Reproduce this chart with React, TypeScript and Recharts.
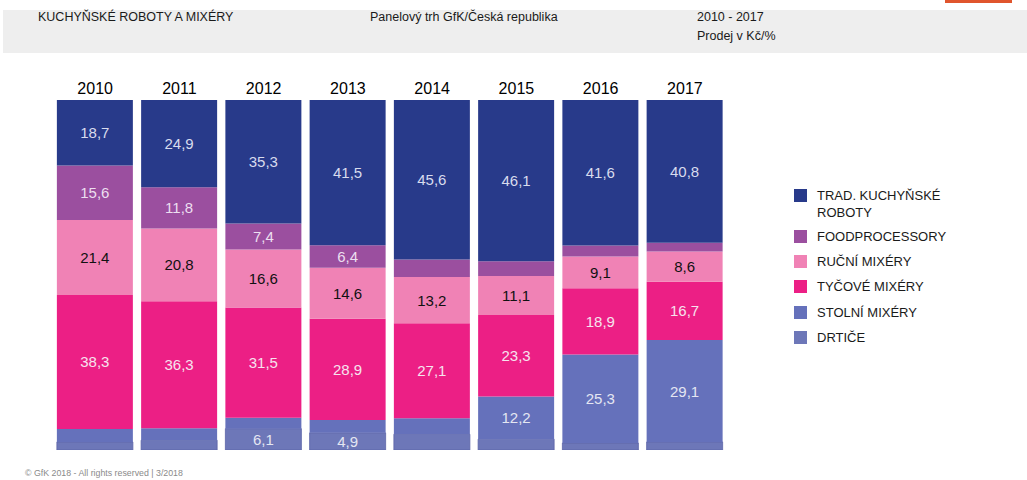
import React from 'react';
import { BarChart, Bar, XAxis, YAxis, LabelList } from 'recharts';

const years = ['2010', '2011', '2012', '2013', '2014', '2015', '2016', '2017'];
const trad = [18.7, 24.9, 35.3, 41.5, 45.6, 46.1, 41.6, 40.8];
const food = [15.6, 11.8, 7.4, 6.4, 5.0, 4.2, 3.1, 2.5];
const rucni = [21.4, 20.8, 16.6, 14.6, 13.2, 11.1, 9.1, 8.6];
const tycove = [38.3, 36.3, 31.5, 28.9, 27.1, 23.3, 18.9, 16.7];
const stolni = [3.7, 3.4, 3.1, 3.7, 4.6, 12.2, 25.3, 29.1];
const drtice = [2.3, 2.8, 6.1, 4.9, 4.5, 3.1, 2.0, 2.3];

// years whose segment carries a value label
const labelledTrad = years;
const labelledFood = ['2010', '2011', '2012', '2013'];
const labelledRucni = years;
const labelledTycove = years;
const labelledStolni = ['2015', '2016', '2017'];
const labelledDrtice = ['2012', '2013'];

const FONT = '"Liberation Sans", Arial, Helvetica, sans-serif';

type Series = {
  key: string;
  name: string[];
  values: number[];
  color: string;
  labelColor: string;
  labelled: string[];
};

// stacking order: bottom first
const series: Series[] = [
  { key: 'drtice', name: ['DRTIČE'], values: drtice, color: '#6d77b8', labelColor: '#e4e6f2', labelled: labelledDrtice },
  { key: 'stolni', name: ['STOLNÍ MIXÉRY'], values: stolni, color: '#6571bb', labelColor: '#e4e6f2', labelled: labelledStolni },
  { key: 'tycove', name: ['TYČOVÉ MIXÉRY'], values: tycove, color: '#ec1f85', labelColor: '#f6e3ee', labelled: labelledTycove },
  { key: 'rucni', name: ['RUČNÍ MIXÉRY'], values: rucni, color: '#f082b5', labelColor: '#111111', labelled: labelledRucni },
  { key: 'food', name: ['FOODPROCESSORY'], values: food, color: '#9b4f9f', labelColor: '#ecdff0', labelled: labelledFood },
  { key: 'trad', name: ['TRAD. KUCHYŇSKÉ', 'ROBOTY'], values: trad, color: '#283a8a', labelColor: '#d8dcee', labelled: labelledTrad },
];

const data = years.map((year, i) => {
  const row: Record<string, string | number> = { year };
  series.forEach((s) => {
    row[s.key] = s.values[i];
  });
  return row;
});

const fmt = (v: number) => v.toFixed(1).replace('.', ',');

const makeLabel = (s: Series) => (props: any) => {
  const { x, y, width, height, value, index } = props;
  if (!s.labelled.includes(years[index])) return null;
  return (
    <text
      x={Number(x) + Number(width) / 2}
      y={Number(y) + Number(height) / 2}
      textAnchor="middle"
      dominantBaseline="central"
      fill={s.labelColor}
      fontSize={15}
      fontFamily={FONT}
    >
      {fmt(Number(value))}
    </text>
  );
};

const legendItems = [...series].reverse();

export default function App() {
  return (
    <div
      style={{
        position: 'absolute',
        left: 0,
        top: 0,
        width: 1027,
        height: 480,
        background: '#ffffff',
        fontFamily: FONT,
        overflow: 'hidden',
      }}
    >
      {/* orange mark */}
      <div style={{ position: 'absolute', left: 945, top: 0, width: 67, height: 3, background: '#e0552d' }} />
      {/* header band */}
      <div style={{ position: 'absolute', left: 3, top: 10, width: 1024, height: 43, background: '#eeeeee' }} />
      <div style={{ position: 'absolute', left: 38, top: 10, fontSize: 12.5, color: '#1a1a1a', lineHeight: '15px' }}>
        KUCHYŇSKÉ ROBOTY A MIXÉRY
      </div>
      <div style={{ position: 'absolute', left: 370, top: 10, fontSize: 12.5, color: '#1a1a1a', lineHeight: '15px' }}>
        Panelový trh GfK/Česká republika
      </div>
      <div style={{ position: 'absolute', left: 697, top: 10, fontSize: 12.5, color: '#1a1a1a', lineHeight: '15px' }}>
        <div>2010 - 2017</div>
        <div style={{ marginTop: 4 }}>Prodej v Kč/%</div>
      </div>

      <div style={{ position: 'absolute', left: 0, top: 0 }}>
        <BarChart
          width={1027}
          height={480}
          data={data}
          margin={{ top: 70, right: 300, bottom: 30, left: 53 }}
          barCategoryGap="4.6%"
        >
          <XAxis
            dataKey="year"
            orientation="top"
            height={30}
            axisLine={false}
            tickLine={false}
            tickSize={0}
            tickMargin={6}
            interval={0}
            tick={{ fontSize: 16, fill: '#000', fontFamily: FONT }}
          />
          <YAxis hide domain={[0, 100]} allowDataOverflow />
          {series.map((s) => (
            <Bar
              key={s.key}
              dataKey={s.key}
              stackId="a"
              fill={s.color}
              stroke={s.key === 'drtice' ? '#5a63a6' : 'none'}
              strokeWidth={s.key === 'drtice' ? 0.8 : 0}
              isAnimationActive={false}
            >
              <LabelList dataKey={s.key} content={makeLabel(s)} />
            </Bar>
          ))}
        </BarChart>
      </div>

      {/* legend */}
      <div style={{ position: 'absolute', left: 794, top: 188 }}>
        {legendItems.map((s, i) => (
          <div
            key={s.key}
            style={{
              position: 'absolute',
              left: 0,
              top: i === 0 ? 0 : 24 + (i - 1) * 25.2 + 17,
              display: 'flex',
              alignItems: 'flex-start',
              whiteSpace: 'nowrap',
            }}
          >
            <div style={{ width: 13, height: 13, background: s.color, marginTop: 1 }} />
            <div style={{ marginLeft: 10, fontSize: 13, color: '#1a1a1a', lineHeight: '16.5px' }}>
              {s.name.map((n, j) => (
                <div key={j}>{n}</div>
              ))}
            </div>
          </div>
        ))}
      </div>

      {/* footer */}
      <div style={{ position: 'absolute', left: 25, top: 468, fontSize: 8.8, color: '#8a8a8a', lineHeight: '11px' }}>
        © GfK 2018 - All rights reserved | 3/2018
      </div>
    </div>
  );
}
